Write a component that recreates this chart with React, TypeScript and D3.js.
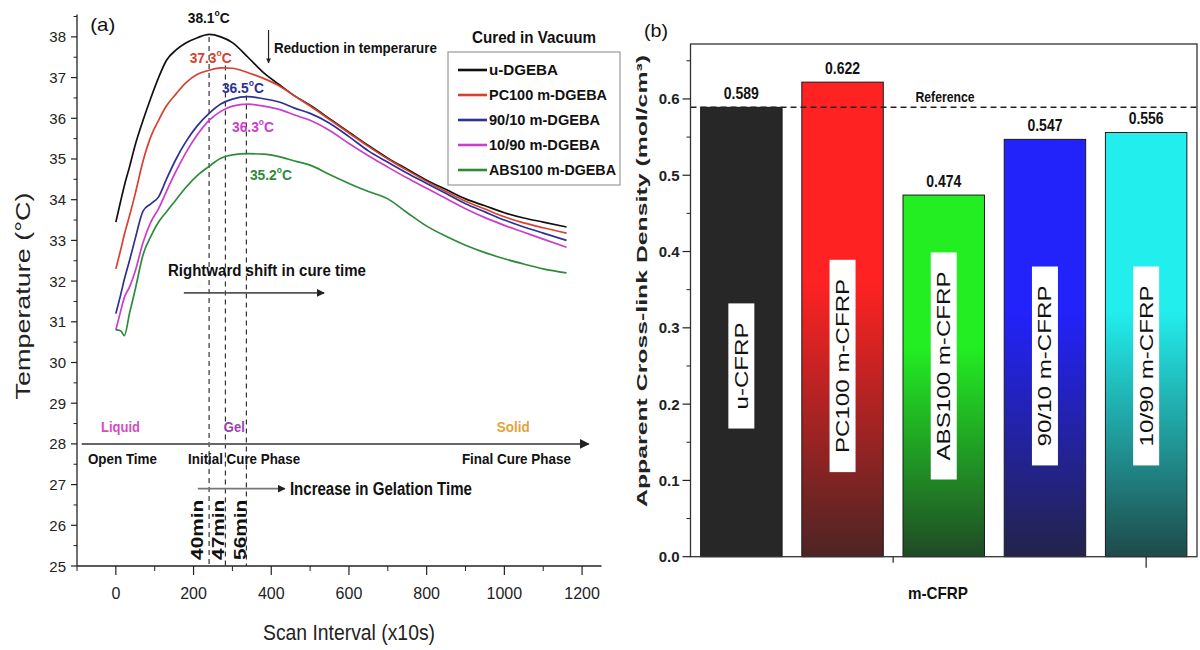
import React from 'react';
import * as d3 from 'd3';

// ---------- Panel (a) data ----------
const scanX = [0, 12, 22, 35, 50, 70, 90, 110, 130, 155, 180, 210, 240, 270, 300, 340, 380, 420, 460, 500, 550, 600, 650, 700, 750, 800, 850, 900, 950, 1000, 1050, 1100, 1160];
const tempU = [33.45, 33.95, 34.35, 34.8, 35.35, 35.95, 36.5, 37.0, 37.42, 37.68, 37.85, 37.98, 38.06, 38.0, 37.86, 37.5, 37.12, 36.83, 36.55, 36.32, 35.99, 35.66, 35.33, 35.02, 34.75, 34.48, 34.25, 34.02, 33.85, 33.68, 33.55, 33.45, 33.33];
const tempPC = [32.3, 32.75, 33.15, 33.6, 34.15, 34.95, 35.55, 35.95, 36.3, 36.6, 36.87, 37.08, 37.18, 37.24, 37.23, 37.12, 36.98, 36.8, 36.55, 36.3, 35.97, 35.64, 35.31, 35.0, 34.72, 34.45, 34.2, 33.96, 33.77, 33.58, 33.43, 33.31, 33.18];
const temp9010 = [31.2, 31.65, 32.05, 32.5, 33.05, 33.72, 33.9, 34.07, 34.5, 35.0, 35.42, 35.82, 36.12, 36.35, 36.47, 36.53, 36.48, 36.4, 36.25, 36.12, 35.88, 35.55, 35.2, 34.92, 34.65, 34.4, 34.15, 33.9, 33.7, 33.5, 33.33, 33.18, 33.0];
const temp1090 = [30.8, 31.25, 31.6, 31.85, 32.25, 32.95, 33.45, 33.78, 34.2, 34.7, 35.15, 35.6, 35.95, 36.17, 36.3, 36.35, 36.3, 36.22, 36.08, 35.95, 35.7, 35.38, 35.08, 34.8, 34.53, 34.28, 34.03, 33.78, 33.56, 33.37, 33.2, 33.03, 32.83];
const tempABS = [30.8, 30.78, 30.66, 31.2, 31.8, 32.65, 33.1, 33.45, 33.7, 34.0, 34.3, 34.6, 34.82, 35.02, 35.1, 35.13, 35.12, 35.06, 34.95, 34.85, 34.62, 34.4, 34.2, 34.02, 33.68, 33.35, 33.1, 32.88, 32.7, 32.55, 32.42, 32.3, 32.2];
const seriesNames = ['u-DGEBA', 'PC100 m-DGEBA', '90/10 m-DGEBA', '10/90 m-DGEBA', 'ABS100 m-DGEBA'];
const seriesValues = [tempU, tempPC, temp9010, temp1090, tempABS];
const seriesColors = ['#111111', '#d8412f', '#2e3192', '#cc3dcc', '#2e8b3a'];
const legendLabelWidths = [69, 118, 111, 111, 127];

const peakLabels = ['38.1', '37.3', '36.5', '36.3', '35.2'];
const peakLabelX = [185, 190, 273, 299, 345];
const peakLabelT = [38.46, 37.48, 36.74, 35.79, 34.61];

const gelScan = [240, 282, 336];
const gelPeakT = [38.0, 37.3, 36.56];
const gelLabels = ['40min', '47min', '56min'];
const gelLabelX = [209, 265, 321];

const xTicksA = [0, 200, 400, 600, 800, 1000, 1200];
const xMinorA = [-100, 100, 300, 500, 700, 900, 1100];
const yTicksA = d3.range(25, 39, 1);
const yMinorA = d3.range(25.5, 38.6, 1);

// ---------- Panel (b) data ----------
const barCategories = ['u-CFRP', 'PC100 m-CFRP', 'ABS100 m-CFRP', '90/10 m-CFRP', '10/90 m-CFRP'];
const barValues = [0.589, 0.622, 0.474, 0.547, 0.556];
const barValueLabels = ['0.589', '0.622', '0.474', '0.547', '0.556'];
const barTopColors = ['#272727', '#ff2222', '#22ee22', '#2222fa', '#22eeee'];
const barBottomColors = ['#272727', '#4e2424', '#1f4a26', '#23234a', '#1f4a4a'];
const referenceValue = 0.589;
const yTicksB = [0, 0.1, 0.2, 0.3, 0.4, 0.5, 0.6];
const yTickLabelsB = ['0.0', '0.1', '0.2', '0.3', '0.4', '0.5', '0.6'];
const yMinorB = [0.05, 0.15, 0.25, 0.35, 0.45, 0.55, 0.65];

const FONT = "'Liberation Sans', Arial, Helvetica, sans-serif";

let measureCtx: CanvasRenderingContext2D | null = null;
function measure(s: string, font: string): number {
  if (!measureCtx) {
    const c = document.createElement('canvas');
    measureCtx = c.getContext('2d');
  }
  if (!measureCtx) return s.length * 10;
  measureCtx.font = font;
  return measureCtx.measureText(s).width;
}

type TxtProps = {
  x: number; y: number; len?: number; size: number; weight?: string | number;
  anchor?: 'start' | 'middle' | 'end'; fill?: string; children: React.ReactNode;
  transform?: string;
};
function Txt({ x, y, len, size, weight = 'bold', anchor = 'start', fill = '#111', children, transform }: TxtProps) {
  return (
    <text x={x} y={y} fontSize={size} fontWeight={weight} textAnchor={anchor} dominantBaseline="central"
      fill={fill} fontFamily={FONT} textLength={len} lengthAdjust={len ? 'spacingAndGlyphs' : undefined} transform={transform}>
      {children}
    </text>
  );
}

function Deg({ value }: { value: string }) {
  return (
    <>
      {value}
      <tspan fontSize="9" dy="-5">o</tspan>
      <tspan dy="5">C</tspan>
    </>
  );
}

export default function App() {
  // ----- scales panel (a)
  const xA = d3.scaleLinear().domain([-100, 1250]).range([77, 601.5]);
  const yA = d3.scaleLinear().domain([25, 38.55]).range([566, 14.5]);
  const line = d3.line<number>()
    .x((_, i) => xA(scanX[i]))
    .y((d) => yA(d))
    .curve(d3.curveMonotoneX);

  // ----- scales panel (b)
  const xB = d3.scaleBand<string>().domain(barCategories).range([690.5, 1197]).paddingInner(0.195).paddingOuter(0.1);
  const yB = d3.scaleLinear().domain([0, 0.672]).range([556.7, 44]);
  const bw = xB.bandwidth();
  const bLeft = 690.5, bRight = 1197;
  const xTickB1 = (xB(barCategories[1])! + bw + xB(barCategories[2])!) / 2;
  const xTickB2 = xB(barCategories[4])! + bw / 2;

  const barLabelFont = '19px ' + FONT;

  return (
    <svg width={1200} height={650} style={{ position: 'absolute', left: 0, top: 0, background: '#fff' }}>
      <defs>
        <marker id="ah" viewBox="0 0 10 10" refX="9" refY="5" markerWidth="5" markerHeight="5" orient="auto">
          <path d="M0,0 L10,5 L0,10 z" fill="#222" />
        </marker>
        <marker id="ahs" viewBox="0 0 10 10" refX="9" refY="5" markerWidth="6" markerHeight="4" orient="auto">
          <path d="M0,0 L10,5 L0,10 z" fill="#222" />
        </marker>
        {barCategories.map((c, i) => (
          <linearGradient key={c} id={`grad${i}`} x1="0" y1="0" x2="0" y2="1">
            <stop offset="0" stopColor={barTopColors[i]} />
            <stop offset="0.42" stopColor={barTopColors[i]} />
            <stop offset="1" stopColor={barBottomColors[i]} />
          </linearGradient>
        ))}
      </defs>
      <rect x={0} y={0} width={1200} height={650} fill="#fff" />

      {/* ================= Panel (a) ================= */}
      <line x1={xA(-100)} x2={xA(-100)} y1={yA(25)} y2={yA(38.55)} stroke="#222" strokeWidth={1.3} />
      <line x1={xA(-100)} x2={xA(1250)} y1={yA(25)} y2={yA(25)} stroke="#222" strokeWidth={1.3} />
      {yTicksA.map((t) => (
        <g key={'ya' + t}>
          <line x1={xA(-100) - 6} x2={xA(-100)} y1={yA(t)} y2={yA(t)} stroke="#222" strokeWidth={1.2} />
          <Txt x={xA(-100) - 11} y={yA(t)} size={15} weight="normal" anchor="end" fill="#222">{t}</Txt>
        </g>
      ))}
      {yMinorA.map((t) => (
        <line key={'yam' + t} x1={xA(-100) - 3.5} x2={xA(-100)} y1={yA(t)} y2={yA(t)} stroke="#222" strokeWidth={1} />
      ))}
      {xTicksA.map((t) => (
        <g key={'xa' + t}>
          <line x1={xA(t)} x2={xA(t)} y1={yA(25)} y2={yA(25) + 9} stroke="#222" strokeWidth={1.2} />
          <Txt x={xA(t)} y={yA(25) + 27} size={16} weight="normal" anchor="middle" fill="#222">{t}</Txt>
        </g>
      ))}
      {xMinorA.map((t) => (
        <line key={'xam' + t} x1={xA(t)} x2={xA(t)} y1={yA(25)} y2={yA(25) + 5} stroke="#222" strokeWidth={1} />
      ))}
      <Txt x={349} y={632} size={22} weight="normal" anchor="middle" len={172} fill="#222">Scan Interval (x10s)</Txt>
      <Txt x={0} y={0} size={21} weight="normal" anchor="middle" len={207} fill="#222"
        transform="translate(22,296) rotate(-90)">Temperature (°C)</Txt>
      <Txt x={xA(-66)} y={yA(38.3)} size={19} weight="normal" len={25} fill="#111">(a)</Txt>

      {gelScan.map((s, i) => (
        <line key={'gl' + s} x1={xA(s)} x2={xA(s)} y1={yA(gelPeakT[i])} y2={yA(25)} stroke="#333" strokeWidth={1.2} strokeDasharray="5,4" />
      ))}

      {seriesValues.map((vals, i) => (
        <path key={seriesNames[i]} d={line(vals) || ''} fill="none" stroke={seriesColors[i]} strokeWidth={1.7} />
      ))}

      {peakLabels.map((p, i) => (
        <Txt key={'pk' + i} x={xA(peakLabelX[i])} y={yA(peakLabelT[i])} size={14.5} len={42} fill={seriesColors[i]}>
          <Deg value={p} />
        </Txt>
      ))}

      <line x1={xA(393)} x2={xA(393)} y1={yA(38.17)} y2={yA(37.36)} stroke="#222" strokeWidth={1.2} markerEnd="url(#ahs)" />
      <Txt x={xA(407)} y={yA(37.75)} size={15} len={163}>Reduction in temperarure</Txt>

      <Txt x={xA(134)} y={yA(32.27)} size={16} len={198}>Rightward shift in cure time</Txt>
      <line x1={xA(175)} x2={xA(536)} y1={yA(31.71)} y2={yA(31.71)} stroke="#555" strokeWidth={1.6} markerEnd="url(#ah)" />

      <line x1={xA(-88)} x2={xA(1217)} y1={yA(28)} y2={yA(28)} stroke="#666" strokeWidth={2} markerEnd="url(#ah)" />
      <Txt x={xA(12)} y={yA(28.43)} size={15} len={39} anchor="middle" fill="#d34fbf">Liquid</Txt>
      <Txt x={xA(305)} y={yA(28.43)} size={15} len={21} anchor="middle" fill="#9b3fb0">Gel</Txt>
      <Txt x={xA(1023)} y={yA(28.43)} size={15} len={33} anchor="middle" fill="#e2a43a">Solid</Txt>
      <Txt x={xA(17)} y={yA(27.65)} size={15} len={69} anchor="middle">Open Time</Txt>
      <Txt x={xA(330)} y={yA(27.65)} size={15} len={112} anchor="middle">Initial Cure Phase</Txt>
      <Txt x={xA(1031)} y={yA(27.65)} size={15} len={109} anchor="middle">Final Cure Phase</Txt>

      <line x1={xA(211)} x2={xA(435)} y1={yA(26.9)} y2={yA(26.9)} stroke="#777" strokeWidth={1.6} markerEnd="url(#ah)" />
      <Txt x={xA(448)} y={yA(26.9)} size={18} len={182}>Increase in Gelation Time</Txt>
      {gelLabels.map((g, i) => (
        <Txt key={g} x={0} y={0} size={16} len={60} transform={`translate(${xA(gelLabelX[i])},${yA(25.15)}) rotate(-90)`}>{g}</Txt>
      ))}

      <Txt x={472} y={37} size={16} len={124}>Cured in Vacuum</Txt>
      <rect x={448} y={52} width={172} height={133} fill="#fff" stroke="#999" strokeWidth={1.2} />
      {seriesNames.map((n, i) => {
        const yy = 70 + i * 25;
        return (
          <g key={'lg' + n}>
            <line x1={458} x2={487} y1={yy} y2={yy} stroke={seriesColors[i]} strokeWidth={2.6} />
            <Txt x={489} y={yy} size={14} len={legendLabelWidths[i]}>{n}</Txt>
          </g>
        );
      })}

      {/* ================= Panel (b) ================= */}
      <Txt x={644} y={30} size={19} weight="normal" len={24}>(b)</Txt>
      {barCategories.map((c, i) => {
        const x0 = xB(c)!;
        const cx = x0 + bw / 2;
        const tl = measure(c, barLabelFont) * 1.27;
        const boxH = tl + 38;
        const cy = yB(0.25);
        return (
          <g key={'bar' + c}>
            <rect x={x0} y={yB(barValues[i])} width={bw} height={yB(0) - yB(barValues[i])}
              fill={`url(#grad${i})`} stroke="#1a1a1a" strokeWidth={1} />
            <rect x={cx - 13} y={cy - boxH / 2} width={26} height={boxH} fill="#fff" />
            <Txt x={0} y={0} size={19} weight="normal" anchor="middle" len={tl}
              transform={`translate(${cx},${cy}) rotate(-90)`} fill="#111">{c}</Txt>
            <Txt x={cx} y={yB(barValues[i]) - 14} size={16} len={35} anchor="middle">{barValueLabels[i]}</Txt>
          </g>
        );
      })}
      <line x1={bLeft} x2={bRight} y1={yB(referenceValue)} y2={yB(referenceValue)} stroke="#222" strokeWidth={1.4} strokeDasharray="6,4" />
      <Txt x={945} y={yB(referenceValue) - 10} size={14} len={59} anchor="middle">Reference</Txt>

      <rect x={bLeft} y={yB(0.672)} width={bRight - bLeft} height={yB(0) - yB(0.672)} fill="none" stroke="#333" strokeWidth={1.3} />
      {yTicksB.map((t, i) => (
        <g key={'yb' + t}>
          <line x1={bLeft - 8} x2={bLeft} y1={yB(t)} y2={yB(t)} stroke="#222" strokeWidth={1.2} />
          <Txt x={bLeft - 11} y={yB(t)} size={15} anchor="end" fill="#222">{yTickLabelsB[i]}</Txt>
        </g>
      ))}
      {yMinorB.map((t) => (
        <line key={'ybm' + t} x1={bLeft - 4} x2={bLeft} y1={yB(t)} y2={yB(t)} stroke="#222" strokeWidth={1} />
      ))}
      <line x1={xTickB1} x2={xTickB1} y1={yB(0)} y2={yB(0) + 6} stroke="#222" strokeWidth={1.2} />
      <line x1={xTickB2} x2={xTickB2} y1={yB(0)} y2={yB(0) + 11} stroke="#222" strokeWidth={1.2} />
      <Txt x={938} y={593} size={17} len={60} anchor="middle">m-CFRP</Txt>
      <Txt x={0} y={0} size={15} anchor="middle" len={452} fill="#222"
        transform="translate(641.5,281) rotate(-90)">Apparent Cross-link Density (mol/cm³)</Txt>
    </svg>
  );
}
